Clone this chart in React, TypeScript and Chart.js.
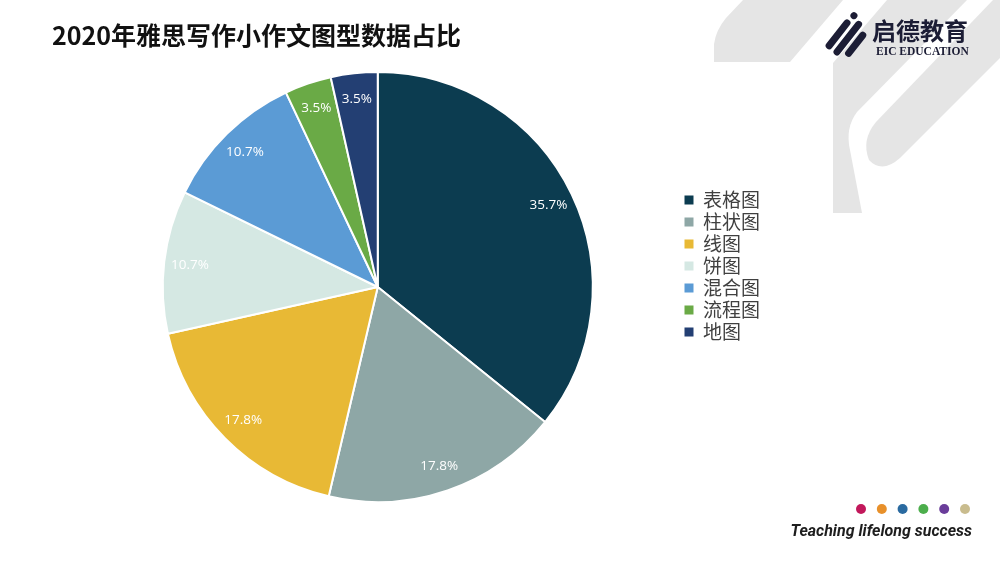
import React, { useEffect, useRef } from "react";
import { Chart, registerables } from "chart.js";

Chart.register(...registerables);

const categories = ["表格图", "柱状图", "线图", "饼图", "混合图", "流程图", "地图"];
const shares = [35.7, 17.8, 17.8, 10.7, 10.7, 3.5, 3.5];
const sliceColors = ["#0c3c50", "#8ea7a6", "#e8b935", "#d5e8e3", "#5b9bd5", "#6aaa46", "#233f73"];
const titleText = "2020年雅思写作小作文图型数据占比";
const brandName = "启德教育";
const brandSub = "EIC EDUCATION";
const tagline = "Teaching lifelong success";
const dotColors = ["#c2185b", "#e8902a", "#2a6aa0", "#4cae4c", "#6a3d9a", "#c9bc8e"];

const CJK = '"Noto Sans CJK SC", "Noto Sans", sans-serif';

const sliceLabelPlugin = {
  id: "sliceLabels",
  afterDatasetsDraw(chart: any) {
    const ctx = chart.ctx;
    const meta = chart.getDatasetMeta(0);
    ctx.save();
    ctx.font = '13.5px "Open Sans", sans-serif';
    ctx.fillStyle = "#ffffff";
    ctx.textAlign = "center";
    ctx.textBaseline = "middle";
    meta.data.forEach((arc: any, i: number) => {
      const p = arc.getProps(["x", "y", "startAngle", "endAngle", "outerRadius"], true);
      const a = (p.startAngle + p.endAngle) / 2;
      const r = p.outerRadius * 0.88;
      ctx.fillText(shares[i].toFixed(1) + "%", p.x + Math.cos(a) * r, p.y + Math.sin(a) * r);
    });
    ctx.restore();
  },
};

function PieChart() {
  const ref = useRef<HTMLCanvasElement | null>(null);
  useEffect(() => {
    if (!ref.current) return;
    const chart = new Chart(ref.current, {
      type: "pie",
      data: {
        labels: categories,
        datasets: [
          {
            data: shares,
            backgroundColor: sliceColors,
            borderColor: "#ffffff",
            borderWidth: 2,
          },
        ],
      },
      options: {
        animation: false,
        responsive: false,
        layout: { padding: { left: 74, right: 230, top: 71, bottom: 60 } },
        plugins: {
          tooltip: { enabled: false },
          legend: {
            position: "right",
            align: "start",
            title: { display: true, text: "", padding: { top: 102, bottom: 0 } },
            labels: {
              boxWidth: 9,
              boxHeight: 9,
              padding: 3,
              color: "#404040",
              font: { size: 19, family: CJK },
              generateLabels: (c: any) =>
                (Chart as any).overrides.pie.plugins.legend.labels
                  .generateLabels(c)
                  .map((l: any) => ({ ...l, lineWidth: 0 })),
            },
          },
        },
      } as any,
      plugins: [sliceLabelPlugin],
    });
    return () => chart.destroy();
  }, []);
  return (
    <canvas
      ref={ref}
      width={1000}
      height={563}
      style={{ position: "absolute", left: 0, top: 0, width: 1000, height: 563 }}
    />
  );
}

export default function App() {
  return (
    <div
      style={{
        position: "fixed",
        left: 0,
        top: 0,
        width: 1000,
        height: 563,
        background: "#ffffff",
        overflow: "hidden",
      }}
    >
      <svg
        width={1000}
        height={563}
        style={{ position: "absolute", left: 0, top: 0 }}
      >
        <g fill="#e5e5e5">
          <path d="M743,0 L843,0 L790,62 L714,62 L714,44 Q716,30 726,18 Z" />
          <path d="M887,0 L967,0 L857,112 Q845,128 850,150 L862,213 L833,213 L833,63 Z" />
          <path d="M993,0 L1000,0 L1000,58 L900,158 Q882,174 869,160 Q861,140 876,122 Z" />
        </g>
        <g transform="rotate(38 846 38)" fill="#1c1d35">
          <rect x="835" y="12" width="7" height="7" rx="3.5" />
          <rect x="834" y="22" width="7" height="36" rx="3.5" />
          <rect x="844" y="16" width="7" height="42" rx="3.5" />
          <rect x="854" y="22" width="7" height="30" rx="3.5" />
        </g>
        {dotColors.map((c, i) => (
          <circle key={i} cx={861 + i * 20.8} cy={509} r={5} fill={c} />
        ))}
      </svg>
      <PieChart />
      <div
        style={{
          position: "absolute",
          left: 52,
          top: 20,
          height: 28,
          lineHeight: "28px",
          fontFamily: CJK,
          fontWeight: 700,
          fontSize: 25,
          color: "#111",
          whiteSpace: "nowrap",
        }}
      >
        {titleText}
      </div>
      <div
        style={{
          position: "absolute",
          left: 872,
          top: 17,
          lineHeight: "26px",
          fontFamily: CJK,
          fontWeight: 700,
          fontSize: 24,
          color: "#1c1d35",
          whiteSpace: "nowrap",
        }}
      >
        {brandName}
      </div>
      <div
        style={{
          position: "absolute",
          left: 876,
          top: 45,
          lineHeight: "12px",
          fontFamily: '"Liberation Serif", serif',
          fontWeight: 700,
          fontSize: 11.5,
          color: "#1c1d35",
          whiteSpace: "nowrap",
        }}
      >
        {brandSub}
      </div>
      <div
        style={{
          position: "absolute",
          right: 28,
          top: 521,
          lineHeight: "20px",
          fontFamily: "Roboto, sans-serif",
          fontStyle: "italic",
          fontWeight: 700,
          fontSize: 16,
          color: "#1e1e1e",
          whiteSpace: "nowrap",
        }}
      >
        {tagline}
      </div>
    </div>
  );
}
